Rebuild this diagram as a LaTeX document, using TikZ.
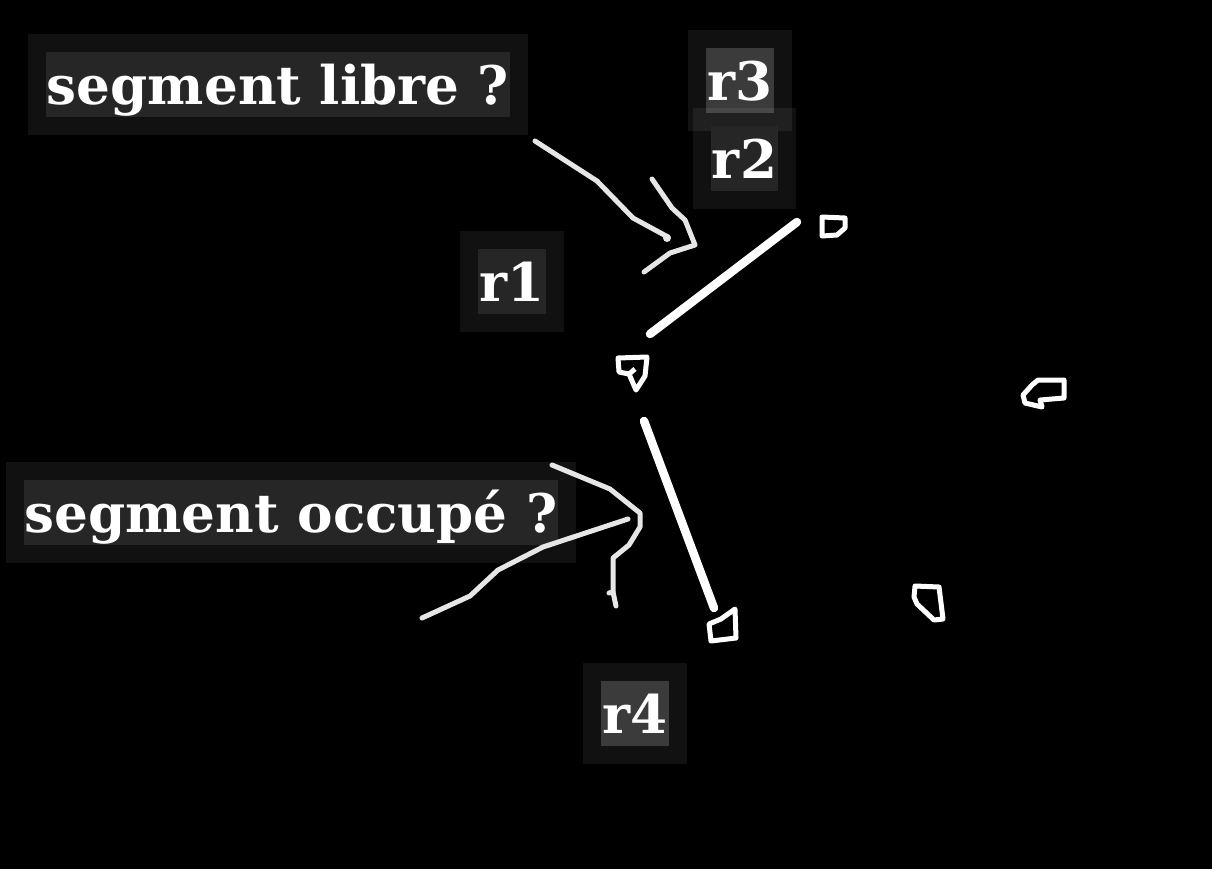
\documentclass[tikz,border=0pt]{standalone}
\usepackage{fontspec}
\setmainfont{DejaVu Serif}
\usetikzlibrary{positioning}
\tikzset{>=stealth}
\definecolor{boxdark}{HTML}{262626}
\definecolor{boxlight}{HTML}{3B3B3B}
\definecolor{inkgray}{HTML}{E6E6E6}
\tikzset{
  lab/.style={fill=boxdark, text=white, inner xsep=1pt, inner ysep=0pt,
    text height=52pt, text depth=13pt, font=\fontsize{53.2}{60}\selectfont\bfseries,
    preaction={draw=white, draw opacity=0.065, line width=36pt}},
  seg/.style={draw=white, line width=8.5pt, line cap=round},
  stroke/.style={draw=inkgray, line width=5pt, line cap=round, line join=round},
  blob/.style={draw=white, line width=5pt, line join=round},
}

\begin{document}
\begin{tikzpicture}[x=1pt,y=-1pt]
            \useasboundingbox (0,0) rectangle (1212,868);
            \fill[black] (-5,-5) rectangle (1217,873);

            % labels
            \node[lab] (libre) at (278,84.5) {segment libre ?};
            \node[lab] (occupe) at (291,512.5) {segment occupé ?};
            \node[lab] (r1) at (512,281.5) {r1};
            \node[lab, fill=boxlight] (r3) at (740,80.5) {r3};
            \node[lab] (r2) at (744.5,158.5) {r2};
            \node[lab, fill=boxlight] (r4) at (635,713.5) {r4};

            % segments
            \coordinate (a1) at (650,334);
            \coordinate (a2) at (797,222);
            \coordinate (b1) at (644,421);
            \coordinate (b2) at (714,608);
            \draw[seg] (a1)--(a2);
            \draw[seg] (b1)--(b2);

            % arrows drawn by hand
            \draw[stroke] (535,141)--(597,181)--(633,218)--(668,237);
            \fill[inkgray] (667,238) circle (4);
            \draw[stroke] (652,179)--(672,208)--(685,220)--(695,245)--(670,253)--(644,272);
            \draw[stroke] (422,618)--(470,596)--(498,570)--(543,547)--(628,519);
            \draw[stroke] (552,465)--(610,489)--(640,513)--(640,527)--(629,545)--(613,558)--(613,592)--(616,606);
            \draw[stroke] (609,593)--(613,592);

            % small blobs
            \draw[blob] (822,217)--(845,218)--(845,228)--(837,235)--(822,236)--cycle;
            \draw[blob] (618,358)--(647,357)--(645,376)--(636,390)--(629,374)--(619,372)--cycle;
            \draw[blob] (629,374)--(635,369);
            \draw[blob] (709,624)--(721,619)--(735,609)--(736,638)--(711,641)--cycle;
            \draw[blob] (1032,385)--(1038,380)--(1064,380)--(1064,398)--(1040,400)--(1042,407)--(1025,403)--(1023,395)--cycle;
            \draw[blob] (915,586)--(939,587)--(943,619)--(934,620)--(917,604)--(914,597)--cycle;
    \end{tikzpicture}
\end{document}
